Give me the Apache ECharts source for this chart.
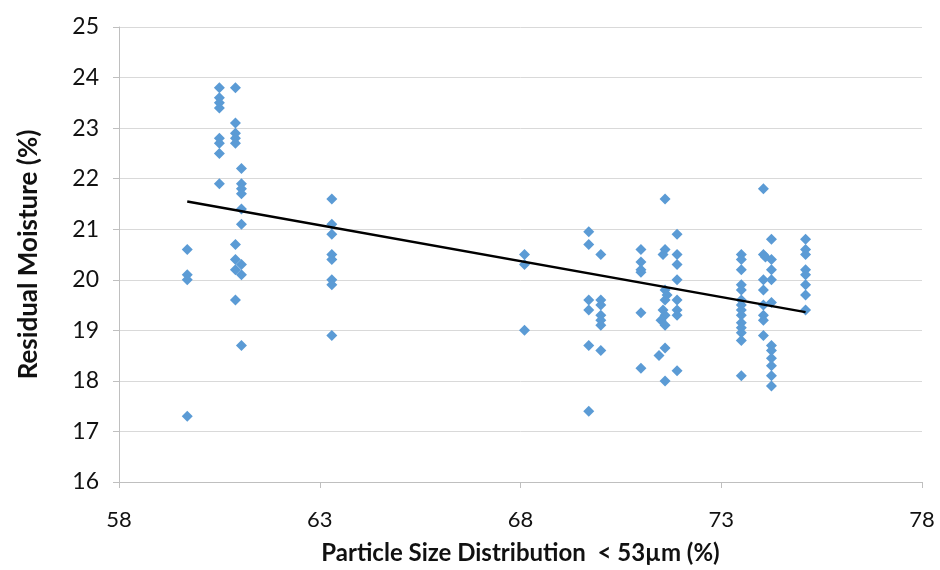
<!DOCTYPE html>
<html>
<head>
<meta charset="utf-8">
<script src="https://cdn.jsdelivr.net/npm/echarts@6/dist/echarts.min.js"></script>
<style>
  html, body { margin: 0; padding: 0; background: #fff; }
  #chart { width: 940px; height: 570px; }
</style>
</head>
<body>
<div id="chart"></div>
<script>
// measured points: [particle size < 53um (%), residual moisture (%)]
const col597 = [[59.7, 20.6], [59.7, 20.1], [59.7, 20.0], [59.7, 17.3]]
const col605 = [[60.5, 23.8], [60.5, 23.6], [60.5, 23.5], [60.5, 23.4], [60.5, 22.8], [60.5, 22.7], [60.5, 22.5], [60.5, 21.9]]
const col609 = [[60.9, 23.8], [60.9, 23.1], [60.9, 22.9], [60.9, 22.8], [60.9, 22.7], [60.9, 20.7], [60.9, 20.4], [60.9, 20.2], [60.9, 19.6]]
const col610 = [[61.05, 22.2], [61.05, 21.9], [61.05, 21.8], [61.05, 21.7], [61.05, 21.4], [61.05, 21.1], [61.05, 20.3], [61.05, 20.1], [61.05, 18.7]]
const col633 = [[63.3, 21.6], [63.3, 21.1], [63.3, 20.9], [63.3, 20.5], [63.3, 20.4], [63.3, 20.0], [63.3, 19.9], [63.3, 18.9]]
const col681 = [[68.1, 20.5], [68.1, 20.3], [68.1, 19.0]]
const col697 = [[69.7, 20.95], [69.7, 20.7], [69.7, 19.6], [69.7, 19.4], [69.7, 18.7], [69.7, 17.4]]
const col700 = [[70.0, 20.5], [70.0, 19.6], [70.0, 19.5], [70.0, 19.3], [70.0, 19.2], [70.0, 19.1], [70.0, 18.6]]
const col710 = [[71.0, 20.6], [71.0, 20.35], [71.0, 20.2], [71.0, 20.15], [71.0, 19.35], [71.0, 18.25]]
const col716 = [[71.6, 21.6], [71.6, 20.6], [71.55, 20.5], [71.6, 19.8], [71.65, 19.7], [71.6, 19.6], [71.55, 19.4], [71.6, 19.3],
  [71.5, 19.2], [71.6, 19.1], [71.6, 18.65], [71.45, 18.5], [71.6, 18.0]]
const col719 = [[71.9, 20.9], [71.9, 20.5], [71.9, 20.3], [71.9, 20.0], [71.9, 19.6], [71.9, 19.4], [71.9, 19.3], [71.9, 18.2]]
const col735 = [[73.5, 20.5], [73.5, 20.4], [73.5, 20.2], [73.5, 19.9], [73.5, 19.8], [73.5, 19.6], [73.5, 19.5], [73.5, 19.4],
  [73.5, 19.3], [73.5, 19.15], [73.5, 19.05], [73.5, 18.95], [73.5, 18.8], [73.5, 18.1]]
const col741 = [[74.05, 21.8], [74.05, 20.5], [74.1, 20.45], [74.05, 20.0], [74.05, 19.8], [74.05, 19.5], [74.05, 19.3], [74.05, 19.2], [74.05, 18.9]]
const col743 = [[74.25, 20.8], [74.25, 20.4], [74.25, 20.2], [74.25, 20.0], [74.25, 19.55], [74.25, 18.7], [74.25, 18.6], [74.25, 18.45],
  [74.25, 18.3], [74.25, 18.1], [74.25, 17.9]]
const col751 = [[75.1, 20.8], [75.1, 20.6], [75.1, 20.5], [75.1, 20.2], [75.1, 20.1], [75.1, 19.9], [75.1, 19.7], [75.1, 19.4]]

// linear trendline end points, as drawn
const trendLine = [[59.7, 21.55], [75.1, 19.36]]

const xTicks = [58, 63, 68, 73, 78]
const yTicks = [16, 17, 18, 19, 20, 21, 22, 23, 24, 25]

const points = [].concat(col597, col605, col609, col610, col633, col681, col697, col700,
  col710, col716, col719, col735, col741, col743, col751)

const font = 'Lato, "Open Sans", sans-serif'
const chart = echarts.init(document.getElementById('chart'), null, { renderer: 'canvas' })

chart.setOption({
  animation: false,
  backgroundColor: '#fff',
  grid: { left: 119, right: 18, top: 27, bottom: 87, containLabel: false },
  xAxis: {
    type: 'value',
    min: xTicks[0],
    max: xTicks[xTicks.length - 1],
    interval: 5,
    name: 'Particle Size Distribution  < 53\u00b5m (%)',
    nameLocation: 'middle',
    nameGap: 59,
    nameTextStyle: { fontFamily: font, fontSize: 24, fontWeight: 'bold', color: '#111' },
    axisLine: { show: true, lineStyle: { color: '#BFBFBF', width: 1 } },
    axisTick: { show: true, length: 6, lineStyle: { color: '#BFBFBF' } },
    axisLabel: { fontFamily: font, fontSize: 22, color: '#111', margin: 27 },
    splitLine: { show: false }
  },
  yAxis: {
    type: 'value',
    min: yTicks[0],
    max: yTicks[yTicks.length - 1],
    interval: 1,
    name: 'Residual Moisture (%)',
    nameLocation: 'middle',
    nameGap: 77,
    nameRotate: 90,
    nameTextStyle: { fontFamily: font, fontSize: 26, fontWeight: 'bold', color: '#111' },
    axisLine: { show: true, lineStyle: { color: '#BFBFBF', width: 1 } },
    axisTick: { show: true, length: 6, lineStyle: { color: '#BFBFBF' } },
    axisLabel: { fontFamily: font, fontSize: 23, color: '#111', margin: 20 },
    splitLine: { show: true, lineStyle: { color: '#D9D9D9', width: 1 } }
  },
  series: [
    {
      type: 'scatter',
      data: points,
      symbol: 'diamond',
      symbolSize: 11,
      itemStyle: { color: '#5B9BD5', opacity: 1 }
    },
    {
      type: 'line',
      data: trendLine,
      symbol: 'none',
      lineStyle: { color: '#000', width: 2.5 },
      z: 3
    }
  ]
})
</script>
</body>
</html>
